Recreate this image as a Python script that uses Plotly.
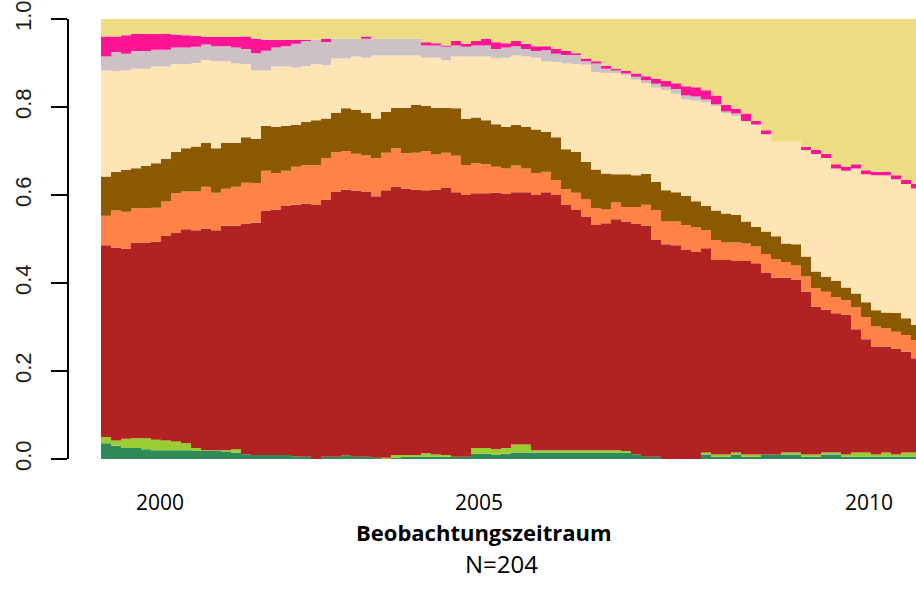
import plotly.graph_objects as go

# Column index (one column per time step, resampled from the picture)
n_cols = 82
cols = list(range(n_cols))

# Tick labels and their column positions
tick_labels = ["2000", "2005", "2010"]
tick_pos = [5.9, 37.8, 76.8]
y_ticks = [0.0, 0.2, 0.4, 0.6, 0.8, 1.0]

# Cumulative upper edge (share of sequences) of each state, bottom to top
upper_seagreen = [.036, .030, .025, .025, .022, .020, .020, .020, .020, .018,
                  .018, .018, .016, .014, .010, .009, .009, .009, .009, .006,
                  .005, .000, .005, .005, .008, .005, .005, .003, .000, .003,
                  .005, .005, .005, .005, .005, .005, .005, .012, .012, .010,
                  .012, .015, .015, .015, .015, .015, .015, .015, .015, .015,
                  .015, .015, .015, .010, .005, .005, .000, .000, .000, .000,
                  .010, .005, .005, .010, .005, .005, .010, .010, .010, .010,
                  .005, .005, .010, .010, .005, .005, .005, .005, .005, .005,
                  .005, .005]
upper_yellowgreen = [.050, .042, .046, .047, .047, .044, .042, .040, .036, .025,
                     .020, .020, .020, .022, .010, .009, .009, .009, .009, .006,
                     .005, .000, .005, .005, .008, .005, .005, .003, .003, .009,
                     .009, .009, .013, .010, .009, .005, .005, .025, .025, .022,
                     .025, .033, .033, .020, .020, .020, .020, .020, .020, .020,
                     .020, .020, .018, .010, .005, .005, .000, .000, .000, .000,
                     .015, .010, .010, .015, .010, .010, .010, .010, .015, .015,
                     .010, .010, .015, .015, .010, .015, .015, .010, .015, .010,
                     .015, .015]
upper_firebrick = [.486, .480, .478, .492, .492, .494, .507, .515, .522, .520,
                   .524, .520, .530, .530, .534, .537, .565, .567, .575, .578,
                   .580, .577, .590, .608, .612, .610, .608, .597, .611, .619,
                   .615, .612, .611, .612, .616, .606, .600, .604, .604, .605,
                   .602, .606, .606, .600, .606, .600, .577, .566, .551, .532,
                   .536, .545, .540, .534, .530, .498, .488, .486, .475, .471,
                   .479, .452, .452, .450, .450, .445, .424, .412, .412, .408,
                   .380, .346, .339, .331, .328, .295, .272, .255, .255, .250,
                   .244, .229]
upper_coral = [.553, .565, .562, .570, .570, .571, .585, .604, .608, .608,
               .619, .605, .614, .619, .628, .627, .655, .650, .655, .664,
               .668, .668, .684, .697, .700, .694, .690, .684, .696, .706,
               .695, .696, .700, .692, .696, .689, .668, .672, .670, .664,
               .660, .667, .660, .650, .653, .634, .613, .605, .590, .570,
               .567, .583, .573, .573, .578, .566, .540, .540, .532, .526,
               .520, .498, .492, .492, .490, .483, .466, .454, .448, .440,
               .415, .388, .380, .368, .361, .345, .322, .301, .297, .289,
               .282, .270]
upper_brown = [.642, .652, .657, .661, .666, .672, .682, .698, .706, .710,
               .719, .706, .719, .719, .731, .728, .757, .755, .757, .759,
               .766, .770, .774, .787, .797, .794, .787, .774, .789, .798,
               .798, .805, .803, .798, .798, .797, .773, .776, .770, .761,
               .755, .759, .755, .749, .744, .731, .704, .698, .675, .658,
               .649, .647, .647, .645, .648, .630, .611, .606, .598, .586,
               .575, .565, .558, .555, .540, .527, .517, .506, .490, .488,
               .460, .426, .414, .405, .390, .376, .356, .338, .333, .332,
               .320, .305]
upper_moccasin = [.883, .881, .883, .887, .887, .892, .892, .898, .898, .900,
                  .907, .904, .904, .899, .897, .883, .883, .892, .892, .890,
                  .893, .898, .895, .910, .910, .915, .912, .917, .917, .917,
                  .917, .917, .912, .912, .906, .915, .915, .915, .915, .910,
                  .912, .917, .915, .912, .904, .902, .899, .898, .896, .879,
                  .877, .877, .872, .862, .854, .844, .838, .830, .817, .814,
                  .811, .802, .786, .779, .768, .760, .738, .721, .721, .721,
                  .702, .693, .684, .660, .655, .660, .647, .645, .645, .636,
                  .625, .615]
upper_grey = [.915, .925, .921, .927, .927, .930, .930, .935, .935, .937,
              .942, .938, .938, .935, .932, .922, .928, .935, .938, .944,
              .950, .953, .948, .955, .955, .955, .955, .955, .955, .955,
              .955, .955, .940, .940, .937, .940, .937, .940, .940, .932,
              .935, .938, .932, .927, .929, .921, .918, .918, .904, .899,
              .887, .883, .876, .869, .861, .853, .846, .841, .826, .824,
              .817, .806, .790, .785, .768, .760, .738, .721, .721, .721,
              .702, .693, .684, .660, .655, .660, .647, .645, .645, .636,
              .625, .615]
upper_pink = [.960, .960, .963, .966, .966, .966, .966, .965, .963, .962,
              .959, .959, .959, .959, .960, .955, .953, .953, .953, .953,
              .953, .953, .955, .955, .955, .955, .960, .955, .955, .955,
              .955, .955, .947, .945, .940, .950, .944, .950, .955, .947,
              .945, .950, .944, .938, .938, .932, .927, .922, .910, .904,
              .894, .887, .882, .876, .870, .864, .859, .854, .847, .845,
              .838, .826, .805, .796, .785, .768, .747, .721, .721, .721,
              .709, .702, .693, .670, .664, .670, .656, .653, .653, .645,
              .634, .625]
upper_goldenrod = [1.0] * n_cols

layers = [
    (upper_seagreen, "#2E8B57"),
    (upper_yellowgreen, "#9ACD32"),
    (upper_firebrick, "#B22222"),
    (upper_coral, "#FF8247"),
    (upper_brown, "#8B5A00"),
    (upper_moccasin, "#FFE4B5"),
    (upper_grey, "#CDC1C5"),
    (upper_pink, "#FF1493"),
    (upper_goldenrod, "#EEDC82"),
]

fig = go.Figure()
xs = cols + [n_cols]
for i, (vals, color) in enumerate(layers):
    ys = list(vals) + [vals[-1]]
    fig.add_trace(go.Scatter(
        x=xs, y=ys, mode="lines",
        line=dict(width=0, shape="hv", color=color),
        fill="tozeroy" if i == 0 else "tonexty",
        fillcolor=color, hoverinfo="skip", showlegend=False,
    ))

W, H = 916, 590
fig.update_layout(
    width=W, height=H,
    margin=dict(l=0, r=0, t=19, b=131, autoexpand=False),
    paper_bgcolor="white", plot_bgcolor="white",
    xaxis=dict(
        domain=[101 / W, 1], range=[0, 81.5], automargin=False,
        showgrid=False, zeroline=False, showline=False, ticks="",
        tickmode="array", tickvals=tick_pos, ticktext=tick_labels,
        tickfont=dict(family="Open Sans", size=21, color="black"),
        ticklabelstandoff=29,
    ),
    yaxis=dict(
        anchor="free", position=68 / W, range=[0, 1], automargin=False,
        showgrid=False, zeroline=False,
        showline=True, linewidth=1.6, linecolor="black",
        ticks="outside", ticklen=16, tickwidth=1.6, tickcolor="black",
        tickmode="array", tickvals=y_ticks,
        ticktext=[f"{v:.1f}" for v in y_ticks],
        tickangle=-90,
        tickfont=dict(family="Liberation Sans, Arial", size=22, color="#1a1a1a"),
        ticklabelstandoff=11,
    ),
    annotations=[
        dict(text="<b>Beobachtungszeitraum</b>", xref="paper", yref="paper",
             x=484 / W, y=0, yshift=-73, xanchor="center", yanchor="middle",
             showarrow=False,
             font=dict(family="Open Sans", size=22, color="black")),
        dict(text="N=204", xref="paper", yref="paper",
             x=501 / W, y=0, yshift=-104, xanchor="center", yanchor="middle",
             showarrow=False,
             font=dict(family="Open Sans", size=24, color="black")),
    ],
)

fig.write_html("out.html", config={"displayModeBar": False},
               post_script="document.body.style.margin='0';")
